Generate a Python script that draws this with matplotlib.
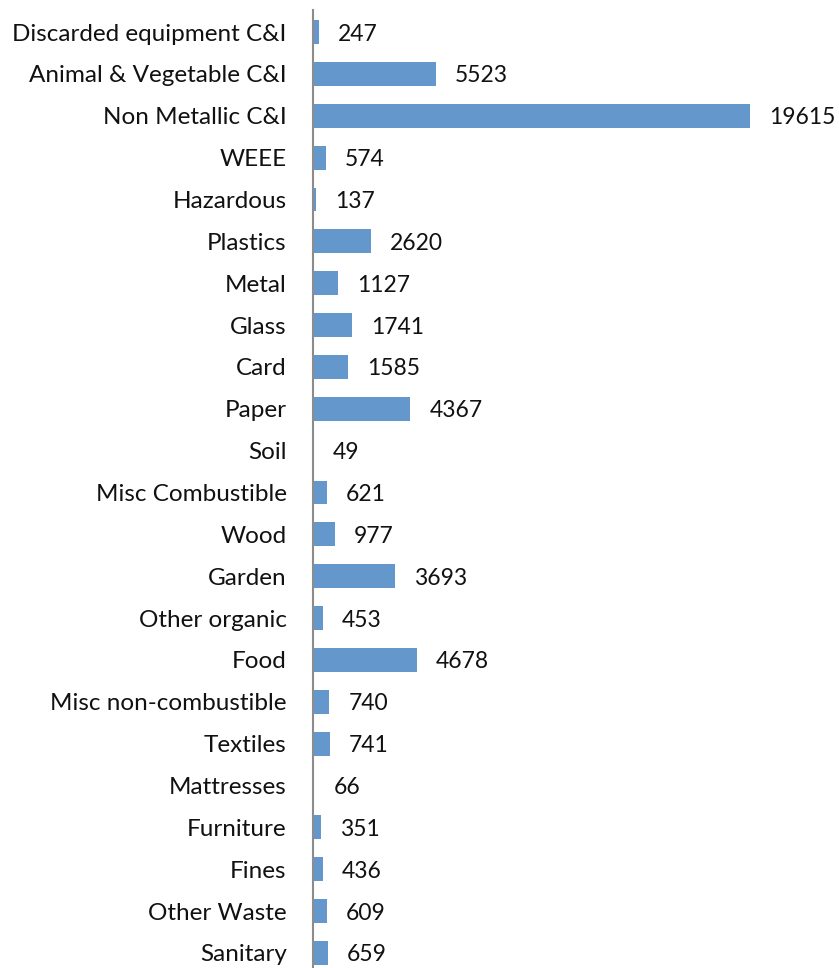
import matplotlib
matplotlib.use("Agg")
import matplotlib.pyplot as plt

categories = ["Discarded equipment C&I", "Animal & Vegetable C&I", "Non Metallic C&I",
              "WEEE", "Hazardous", "Plastics", "Metal", "Glass", "Card", "Paper", "Soil",
              "Misc Combustible", "Wood", "Garden", "Other organic", "Food",
              "Misc non-combustible", "Textiles", "Mattresses", "Furniture", "Fines",
              "Other Waste", "Sanitary"]
values = [247, 5523, 19615, 574, 137, 2620, 1127, 1741, 1585, 4367, 49,
          621, 977, 3693, 453, 4678, 740, 741, 66, 351, 436, 609, 659]

plt.rcParams['font.family'] = ['Lato', 'DejaVu Sans']

fig = plt.figure(figsize=(8.39, 9.68), dpi=100)
ax = fig.add_axes([313 / 839, 0, 1 - 313 / 839, 958 / 968])

pos = list(range(len(categories)))
ax.barh(pos, values, height=0.57, color="#6498CC")

for p, v in zip(pos, values):
    ax.annotate(str(v), (v, p), xytext=(19, -2), textcoords="offset pixels",
                va="center", ha="left", fontsize=16.5, color="#111111")

ax.set_yticks(pos)
ax.set_yticklabels(categories, fontsize=17.5, color="#111111")
ax.set_ylim(len(categories) - 1 + 15 / 41.86, -22 / 41.86)
ax.set_xlim(0, 19615 * 526 / 437)
ax.set_xticks([])
ax.tick_params(axis="y", length=0, pad=19)

for s in ["top", "right", "bottom"]:
    ax.spines[s].set_visible(False)
ax.spines["left"].set_color("#8c8c8c")
ax.spines["left"].set_linewidth(1.5)

fig.savefig("out.png", dpi=100)
